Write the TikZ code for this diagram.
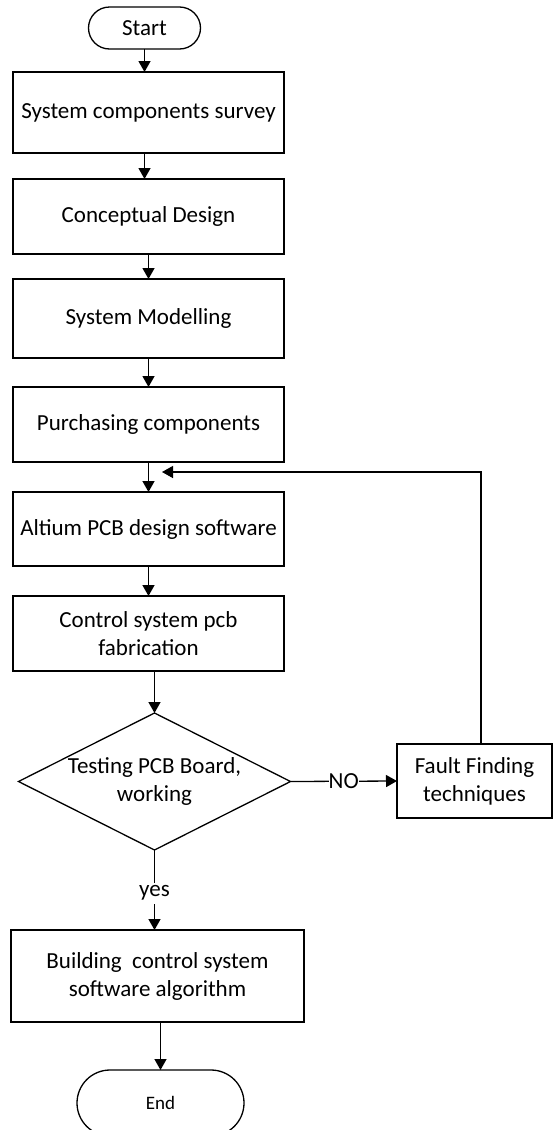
\documentclass[tikz,border=0pt]{standalone}
\usepackage{fontspec}
\setmainfont{Carlito}
\usetikzlibrary{arrows.meta,shapes.geometric}

\begin{document}
\begin{tikzpicture}[x=1pt,y=-1pt,
  every node/.style={font=\fontsize{23}{28}\selectfont, inner sep=0pt, outer sep=0pt, align=center},
  stepbox/.style={draw, line width=1.3pt, minimum width=271pt},
  terminal/.style={draw, line width=1.3pt},
  decision/.style={draw, line width=1.3pt, shape=diamond, minimum width=272pt, minimum height=137pt},
  flow/.style={line width=1.3pt, -{Triangle[length=11pt,width=12pt]}},
  tag/.style={fill=white, inner xsep=0pt, inner ysep=3pt}
]
  % page
  \fill[white] (0,0) rectangle (553,1130);
  \useasboundingbox (0,0) rectangle (553,1130);

  % terminals and process steps
  \node[terminal, rounded corners=21pt, minimum width=112pt, minimum height=42pt] (start) at (144.5,28) {Start};
  \node[stepbox, minimum height=81pt] (survey) at (148.5,112.5) {System components survey};
  \node[stepbox, minimum height=75pt] (concept) at (148.5,216.5) {Conceptual Design};
  \node[stepbox, minimum height=79pt] (model) at (148.5,318.5) {System Modelling};
  \node[stepbox, minimum height=75pt] (purchase) at (148.5,424.5) {Purchasing components};
  \node[stepbox, minimum height=74pt] (altium) at (148.5,529) {Altium PCB design software};
  \node[stepbox, minimum height=75pt] (fab) at (148.5,633.5) {Control system pcb\\fabrication};

  % decision
  \node[decision] (test) at (154.5,781.5) {};
  \node at (test) {Testing PCB Board,\\working};

  % fault branch
  \node[stepbox, minimum width=155pt, minimum height=74pt] (fault) at (474.5,781) {Fault Finding\\techniques};

  % final steps
  \node[stepbox, minimum width=293pt, minimum height=92pt] (build) at (157.5,976) {Building\ \ control system\\software algorithm};
  \node[terminal, rounded corners=33pt, minimum width=167pt, minimum height=66pt, font=\fontsize{19}{22}\selectfont] (finish) at (160.5,1103) {End};

  % main flow
  \draw[flow] (start.south) -- (start.south |- survey.north);
  \draw[flow] (start.south |- survey.south) -- (start.south |- concept.north);
  \draw[flow] (concept.south) -- (model.north);
  \draw[flow] (model.south) -- (purchase.north);
  \draw[flow] (purchase.south) -- (altium.north);
  \draw[flow] (altium.south) -- (fab.north);
  \draw[flow] (test.north |- fab.south) -- (test.north);
  \draw[flow] (test.south) -- node[tag, pos=0.54] {yes} (test.south |- build.north);
  \draw[flow] (finish.north |- build.south) -- (finish.north);

  % NO branch and loop back
  \draw[flow] (test.east) -- node[tag] {NO} (fault.west);
  \coordinate (rejoin) at (162,472);
  \coordinate (riser) at (481,0);
  \draw[flow] (riser |- fault.north) |- (rejoin);
\end{tikzpicture}
\end{document}
